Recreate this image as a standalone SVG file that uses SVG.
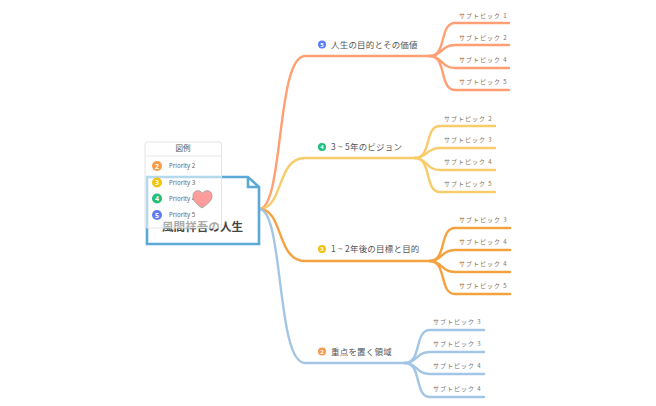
<svg xmlns="http://www.w3.org/2000/svg" width="656" height="406" viewBox="0 0 656 406">
<style>
text{font-family:"Noto Sans CJK JP","Noto Sans",sans-serif}
.c{fill:none;stroke-width:2.4;stroke-linecap:round}
.m{font-size:8.5px;fill:#555;letter-spacing:.2px}
.s{font-size:6px;letter-spacing:1px}
.l{font-size:6.2px;fill:#666;font-family:"Noto Sans",sans-serif}
.b{font-size:7px;fill:#fff;font-weight:700;text-anchor:middle;font-family:"Noto Sans",sans-serif}
.t{font-size:6px}
</style>
<rect width="656" height="406" fill="#fff"/>
<g id="connectors">
<g stroke="#FF9F73">
<path class="c" d="M259 209C284 209 276 56 305 56H430"/>
<path class="c" d="M430 56C447 56 439 23 455 23H509"/>
<path class="c" d="M430 56C442 56 441 45 455 45H509"/>
<path class="c" d="M430 56C442 56 441 68 455 68H509"/>
<path class="c" d="M430 56C447 56 439 90 455 90H509"/>
</g>
<g stroke="#F8CC6B">
<path class="c" d="M259 209C284 209 276 158 305 158H415"/>
<path class="c" d="M415 158C432 158 424 126 440 126H495"/>
<path class="c" d="M415 158C427 158 426 148 440 148H495"/>
<path class="c" d="M415 158C427 158 426 170 440 170H495"/>
<path class="c" d="M415 158C432 158 424 192 440 192H495"/>
</g>
<g stroke="#F4A23F">
<path class="c" d="M259 209C284 209 276 261 305 261H430"/>
<path class="c" d="M430 261C447 261 439 228 455 228H510"/>
<path class="c" d="M430 261C442 261 441 250 455 250H510"/>
<path class="c" d="M430 261C442 261 441 272 455 272H510"/>
<path class="c" d="M430 261C447 261 439 294 455 294H510"/>
</g>
<g stroke="#A3C6E6">
<path class="c" d="M259 209C284 209 276 363 305 363H405"/>
<path class="c" d="M405 363C422 363 414 330 430 330H484"/>
<path class="c" d="M405 363C417 363 416 352 430 352H484"/>
<path class="c" d="M405 363C417 363 416 374 430 374H484"/>
<path class="c" d="M405 363C422 363 414 397 430 397H484"/>
</g>
</g>
<g id="root">
<path d="M147 177H248L259 187V244H147Z" fill="#fff" stroke="#5AA9D6" stroke-width="2.6"/>
<path d="M248 177V187H259" fill="none" stroke="#5AA9D6" stroke-width="2.6"/>
<text x="202.500" y="231" font-size="11.600" font-weight="700" fill="#444" text-anchor="middle">風間祥吾の人生</text>
</g>
<g id="legend">
<rect x="145" y="142" width="76.500" height="86" rx="2.500" fill="#fff" fill-opacity=".55" stroke="#e4e4e4" stroke-width="1"/>
<path d="M145 156H221.500" stroke="#e8e8e8" stroke-width="1"/>
<text x="183" y="151" font-size="7.500" fill="#555" text-anchor="middle">図例</text>
<circle cx="157" cy="166" r="5" fill="#F79A4B"/><text class="b" x="157" y="168.500">2</text><text class="l" x="169" y="168.300">Priority 2</text>
<circle cx="157" cy="182.500" r="5" fill="#F4C20D"/><text class="b" x="157" y="185">3</text><text class="l" x="169" y="184.800">Priority 3</text>
<circle cx="157" cy="198.500" r="5" fill="#1FBF7A"/><text class="b" x="157" y="201">4</text><text class="l" x="169" y="200.800">Priority 4</text>
<circle cx="157" cy="215" r="5" fill="#5B7CF6"/><text class="b" x="157" y="217.500">5</text><text class="l" x="169" y="217.300">Priority 5</text>
</g>
<g id="heart">
<path d="M202 208C197 204.500 193 201 193 196C193 190 200 189 202.500 193.500C205 189 212 190 212 196C212 201 207 204.500 202 208Z" fill="#FF9C9C" stroke="#999" stroke-width=".8"/>
</g>
<g id="topic5">
<circle cx="322" cy="44.500" r="4" fill="#5B7CF6"/><text class="b t" x="322" y="46.700">5</text>
<text class="m" x="331" y="48">人生の目的とその価値</text>
<text class="s" x="459" y="18" fill="#8A6B5A">サブトピック 1</text>
<text class="s" x="459" y="39.500" fill="#8A6B5A">サブトピック 2</text>
<text class="s" x="459" y="62" fill="#8A6B5A">サブトピック 4</text>
<text class="s" x="459" y="84" fill="#8A6B5A">サブトピック 5</text>
</g>
<g id="topic4">
<circle cx="322" cy="147" r="4" fill="#1FBF7A"/><text class="b t" x="322" y="149.200">4</text>
<text class="m" x="331" y="150">3 ~ 5年のビジョン</text>
<text class="s" x="444" y="120.500" fill="#85744F">サブトピック 2</text>
<text class="s" x="444" y="142" fill="#85744F">サブトピック 3</text>
<text class="s" x="444" y="164" fill="#85744F">サブトピック 4</text>
<text class="s" x="444" y="186" fill="#85744F">サブトピック 5</text>
</g>
<g id="topic3">
<circle cx="322" cy="249" r="4" fill="#F4C20D"/><text class="b t" x="322" y="251.200">3</text>
<text class="m" x="331" y="252">1 ~ 2年後の目標と目的</text>
<text class="s" x="459" y="222" fill="#857050">サブトピック 3</text>
<text class="s" x="459" y="244" fill="#857050">サブトピック 4</text>
<text class="s" x="459" y="266" fill="#857050">サブトピック 4</text>
<text class="s" x="459" y="288" fill="#857050">サブトピック 5</text>
</g>
<g id="topic2">
<circle cx="322" cy="351.500" r="4" fill="#F79A4B"/><text class="b t" x="322" y="353.700">2</text>
<text class="m" x="331" y="355">重点を置く領域</text>
<text class="s" x="433" y="324" fill="#6A7480">サブトピック 3</text>
<text class="s" x="433" y="346" fill="#6A7480">サブトピック 3</text>
<text class="s" x="433" y="368" fill="#6A7480">サブトピック 4</text>
<text class="s" x="433" y="391" fill="#6A7480">サブトピック 4</text>
</g>
</svg>
